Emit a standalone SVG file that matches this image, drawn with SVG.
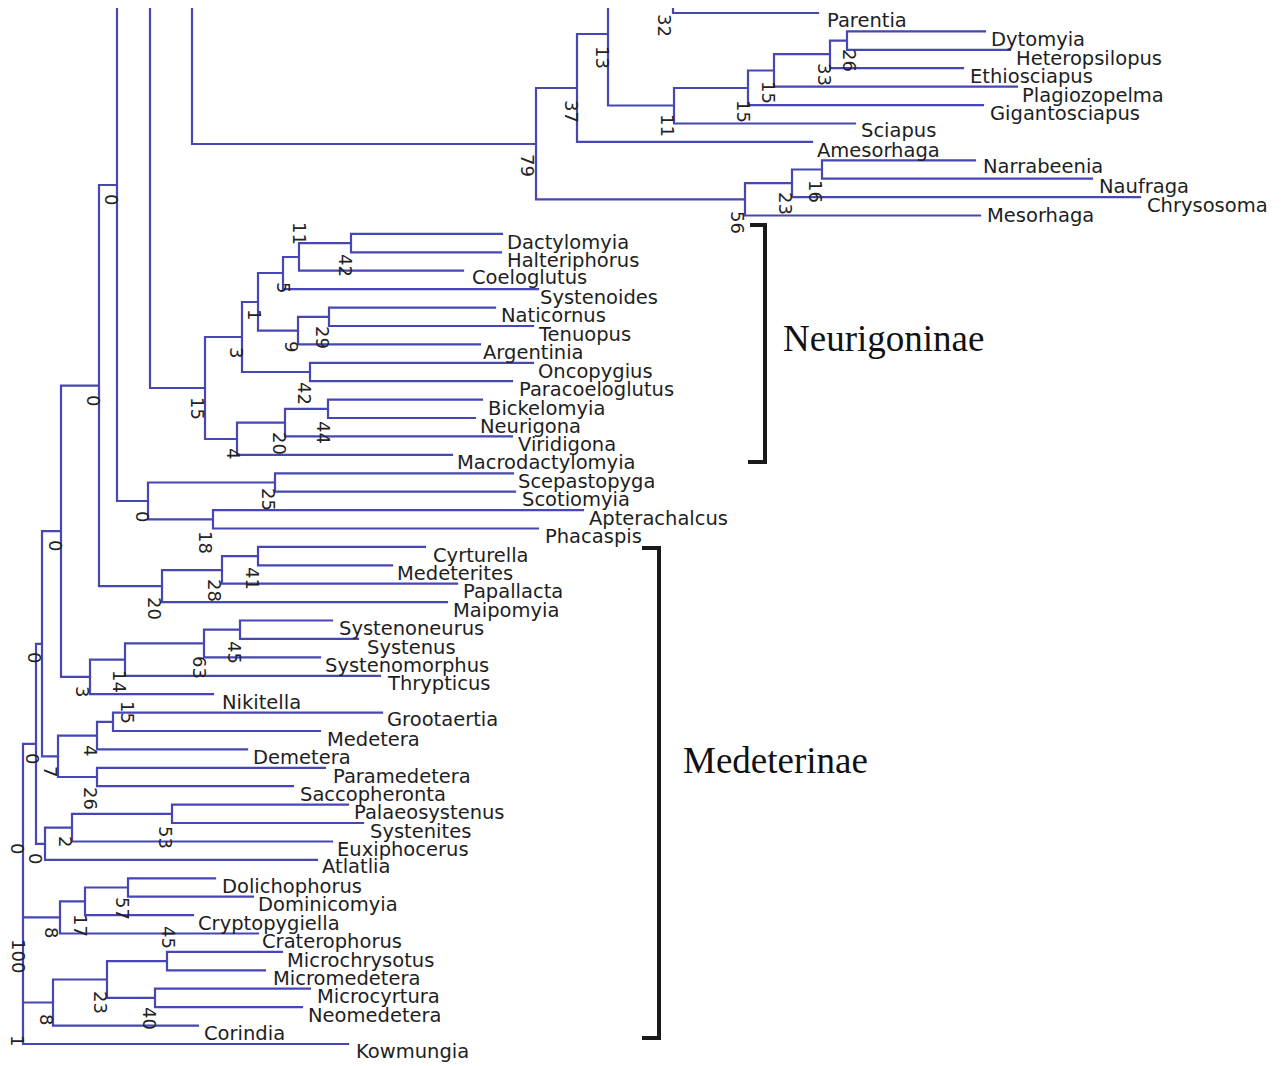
<svg xmlns="http://www.w3.org/2000/svg" width="1284" height="1066" viewBox="0 0 1284 1066">
<style>
.br{stroke:#4646b4;stroke-width:2.2;fill:none;stroke-linecap:square}
.lf{font-family:"DejaVu Sans",sans-serif;font-size:19.5px;fill:#1e1e1e}
.sv{font-family:"DejaVu Sans",sans-serif;font-size:18px;fill:#222}
.bk{stroke:#1a1a1a;stroke-width:4;fill:none}
.gp{font-family:"Liberation Serif",serif;font-size:37px;fill:#111}
</style>
<rect width="1284" height="1066" fill="#ffffff"/>
<g id="connectors">
<path class="br" d="M117 9V501H148M150 9V388H205M192 9V144H536M99 185H117M99 185V586.2H162M61 385.6H99M61 385.6V676.9H90M42 531.2H61M42 531.2V756.3H58M36 643.8H42M36 643.8V843.8H45M23 743.8H36M23 743.8V1044H348M23 917.4H60M23 1002.5H53"/>
<path class="br" d="M536 88V199.3M536 88H577M536 199.3H745M577 34V141.9M577 34H608M577 141.9H812M608 9V105.5H674M673 9V13H818M674 88V123.5M674 88H748M674 123.5H855M748 70.5V105.1M748 70.5H774M748 105.1H983M774 54.2V86.6M774 54.2H830M774 86.6H1017M830 40.6V68.2M830 40.6H847M830 68.2H963M847 31.4V49.8M847 31.4H985M847 49.8H1010M745 183.1V215.5M745 183.1H792M745 215.5H980M792 169.5V197.1M792 169.5H822M792 197.1H1140M822 160.3V178.7M822 160.3H975M822 178.7H1092"/>
<path class="br" d="M205 337V439M205 337H242M205 439H237M242 302V372M242 302H258M242 372H310M258 273V330.6M258 273H283M258 330.6H298M283 257V289.2M283 257H299M283 289.2H538M299 243.1V270.7M299 243.1H351M299 270.7H463M351 233.9V252.3M351 233.9H502M351 252.3H501M298 316.8V344.4M298 316.8H329M298 344.4H480M329 307.6V326M329 307.6H495M329 326H533M310 362.8V381.2M310 362.8H533M310 381.2H512M237 422.6V454.8M237 422.6H285M237 454.8H452M285 408.8V436.4M285 408.8H328M285 436.4H512M328 399.6V418M328 399.6H482M328 418H475"/>
<path class="br" d="M148 482.5V519.3M148 482.5H275M148 519.3H213M275 473.3V491.7M275 473.3H513M275 491.7H515M213 510.1V528.5M213 510.1H583M213 528.5H538M162 570.2V602.1M162 570.2H222M162 602.1H447M222 556.1V583.7M222 556.1H258M222 583.7H457M258 546.9V565.3M258 546.9H425M258 565.3H392"/>
<path class="br" d="M90 659.6V694.2M90 659.6H125M90 694.2H213M125 643.4V675.8M125 643.4H204M125 675.8H380M204 629.7V657.4M204 629.7H240M204 657.4H320M240 620.5V638.9M240 620.5H332M240 638.9H358"/>
<path class="br" d="M58 735.6V777M58 735.6H97M58 777H97M97 721.8V749.4M97 721.8H113M97 749.4H247M113 712.6V731M113 712.6H382M113 731H320M97 767.8V786.2M97 767.8H325M97 786.2H293M172 804.6V823M172 804.6H348M172 823H363M72 813.8V841.5M72 813.8H172M72 841.5H332M45 827.6V859.9M45 827.6H72M45 859.9H317"/>
<path class="br" d="M128 878.3V896.7M128 878.3H215M128 896.7H253M85 887.5V915.1M85 887.5H128M85 915.1H193M60 901.3V933.5M60 901.3H85M60 933.5H258M167 951.9V970.3M167 951.9H282M167 970.3H265M155 988.7V1007.1M155 988.7H310M155 1007.1H302M107 961.1V997.9M107 961.1H167M107 997.9H155M53 979.5V1025.6M53 979.5H107M53 1025.6H198"/>
</g>
<g id="leaves">
<g id="n-Parentia"><text class="lf" x="827" y="27">Parentia</text></g>
<g id="n-Dytomyia"><text class="lf" x="991" y="46">Dytomyia</text></g>
<g id="n-Heteropsilopus"><text class="lf" x="1016" y="64.5">Heteropsilopus</text></g>
<g id="n-Ethiosciapus"><text class="lf" x="970" y="83">Ethiosciapus</text></g>
<g id="n-Plagiozopelma"><text class="lf" x="1022" y="101.5">Plagiozopelma</text></g>
<g id="n-Gigantosciapus"><text class="lf" x="990" y="120">Gigantosciapus</text></g>
<g id="n-Sciapus"><text class="lf" x="861" y="137">Sciapus</text></g>
<g id="n-Amesorhaga"><text class="lf" x="817" y="156.5">Amesorhaga</text></g>
<g id="n-Narrabeenia"><text class="lf" x="983" y="173">Narrabeenia</text></g>
<g id="n-Naufraga"><text class="lf" x="1099" y="193">Naufraga</text></g>
<g id="n-Chrysosoma"><text class="lf" x="1147" y="211.5">Chrysosoma</text></g>
<g id="n-Mesorhaga"><text class="lf" x="987" y="222">Mesorhaga</text></g>
<g id="n-Dactylomyia"><text class="lf" x="507" y="248.5">Dactylomyia</text></g>
<g id="n-Halteriphorus"><text class="lf" x="507" y="266.8">Halteriphorus</text></g>
<g id="n-Coeloglutus"><text class="lf" x="472" y="284">Coeloglutus</text></g>
<g id="n-Systenoides"><text class="lf" x="540" y="303.5">Systenoides</text></g>
<g id="n-Naticornus"><text class="lf" x="501" y="322">Naticornus</text></g>
<g id="n-Tenuopus"><text class="lf" x="539" y="340.5">Tenuopus</text></g>
<g id="n-Argentinia"><text class="lf" x="483" y="359">Argentinia</text></g>
<g id="n-Oncopygius"><text class="lf" x="538" y="377.5">Oncopygius</text></g>
<g id="n-Paracoeloglutus"><text class="lf" x="519" y="395.8">Paracoeloglutus</text></g>
<g id="n-Bickelomyia"><text class="lf" x="488" y="414.5">Bickelomyia</text></g>
<g id="n-Neurigona"><text class="lf" x="480" y="432.5">Neurigona</text></g>
<g id="n-Viridigona"><text class="lf" x="518" y="451">Viridigona</text></g>
<g id="n-Macrodactylomyia"><text class="lf" x="457" y="469">Macrodactylomyia</text></g>
<g id="n-Scepastopyga"><text class="lf" x="518" y="488">Scepastopyga</text></g>
<g id="n-Scotiomyia"><text class="lf" x="522" y="506">Scotiomyia</text></g>
<g id="n-Apterachalcus"><text class="lf" x="589" y="525">Apterachalcus</text></g>
<g id="n-Phacaspis"><text class="lf" x="545" y="543">Phacaspis</text></g>
<g id="n-Cyrturella"><text class="lf" x="433" y="561.5">Cyrturella</text></g>
<g id="n-Medeterites"><text class="lf" x="397" y="580">Medeterites</text></g>
<g id="n-Papallacta"><text class="lf" x="463" y="598">Papallacta</text></g>
<g id="n-Maipomyia"><text class="lf" x="453" y="616.5">Maipomyia</text></g>
<g id="n-Systenoneurus"><text class="lf" x="339" y="635">Systenoneurus</text></g>
<g id="n-Systenus"><text class="lf" x="367" y="653.5">Systenus</text></g>
<g id="n-Systenomorphus"><text class="lf" x="325" y="672">Systenomorphus</text></g>
<g id="n-Thrypticus"><text class="lf" x="388" y="690">Thrypticus</text></g>
<g id="n-Nikitella"><text class="lf" x="222" y="709">Nikitella</text></g>
<g id="n-Grootaertia"><text class="lf" x="387" y="726">Grootaertia</text></g>
<g id="n-Medetera"><text class="lf" x="327" y="745.5">Medetera</text></g>
<g id="n-Demetera"><text class="lf" x="253" y="764">Demetera</text></g>
<g id="n-Paramedetera"><text class="lf" x="333" y="782.5">Paramedetera</text></g>
<g id="n-Saccopheronta"><text class="lf" x="300" y="801">Saccopheronta</text></g>
<g id="n-Palaeosystenus"><text class="lf" x="354" y="819">Palaeosystenus</text></g>
<g id="n-Systenites"><text class="lf" x="370" y="837.5">Systenites</text></g>
<g id="n-Euxiphocerus"><text class="lf" x="337" y="855.5">Euxiphocerus</text></g>
<g id="n-Atlatlia"><text class="lf" x="322" y="873">Atlatlia</text></g>
<g id="n-Dolichophorus"><text class="lf" x="222" y="892.5">Dolichophorus</text></g>
<g id="n-Dominicomyia"><text class="lf" x="258" y="911">Dominicomyia</text></g>
<g id="n-Cryptopygiella"><text class="lf" x="198" y="929.5">Cryptopygiella</text></g>
<g id="n-Craterophorus"><text class="lf" x="262" y="948">Craterophorus</text></g>
<g id="n-Microchrysotus"><text class="lf" x="287" y="966.5">Microchrysotus</text></g>
<g id="n-Micromedetera"><text class="lf" x="273" y="985">Micromedetera</text></g>
<g id="n-Microcyrtura"><text class="lf" x="317" y="1003">Microcyrtura</text></g>
<g id="n-Neomedetera"><text class="lf" x="308" y="1021.5">Neomedetera</text></g>
<g id="n-Corindia"><text class="lf" x="204" y="1040">Corindia</text></g>
<g id="n-Kowmungia"><text class="lf" x="356" y="1058">Kowmungia</text></g>
</g>
<g id="support-values" class="sv">
<text transform="translate(658,14) rotate(90)">32</text>
<text transform="translate(596,46) rotate(90)">13</text>
<text transform="translate(565,100) rotate(90)">37</text>
<text transform="translate(521,154) rotate(90)">79</text>
<text transform="translate(661,114) rotate(90)">11</text>
<text transform="translate(737,100) rotate(90)">15</text>
<text transform="translate(762,81) rotate(90)">15</text>
<text transform="translate(818,63) rotate(90)">33</text>
<text transform="translate(843,49) rotate(90)">26</text>
<text transform="translate(731,211) rotate(90)">56</text>
<text transform="translate(779,192) rotate(90)">23</text>
<text transform="translate(809,180) rotate(90)">16</text>
<text transform="translate(191,397) rotate(90)">15</text>
<text transform="translate(230,347) rotate(90)">3</text>
<text transform="translate(298,382) rotate(90)">42</text>
<text transform="translate(248,309) rotate(90)">1</text>
<text transform="translate(277,282) rotate(90)">5</text>
<text transform="translate(293,222) rotate(90)">11</text>
<text transform="translate(339,254) rotate(90)">42</text>
<text transform="translate(285,341) rotate(90)">9</text>
<text transform="translate(316,326) rotate(90)">29</text>
<text transform="translate(227,448) rotate(90)">4</text>
<text transform="translate(273,432) rotate(90)">20</text>
<text transform="translate(317,421) rotate(90)">44</text>
<text transform="translate(105,194) rotate(90)">0</text>
<text transform="translate(87,395) rotate(90)">0</text>
<text transform="translate(136,511) rotate(90)">0</text>
<text transform="translate(262,488) rotate(90)">25</text>
<text transform="translate(199,531) rotate(90)">18</text>
<text transform="translate(148,597) rotate(90)">20</text>
<text transform="translate(208,579) rotate(90)">28</text>
<text transform="translate(246,567) rotate(90)">41</text>
<text transform="translate(49,540) rotate(90)">0</text>
<text transform="translate(76,686) rotate(90)">3</text>
<text transform="translate(113,670) rotate(90)">14</text>
<text transform="translate(193,656) rotate(90)">63</text>
<text transform="translate(228,641) rotate(90)">45</text>
<text transform="translate(28,652) rotate(90)">0</text>
<text transform="translate(121,701) rotate(90)">15</text>
<text transform="translate(84,745) rotate(90)">4</text>
<text transform="translate(44,766) rotate(90)">7</text>
<text transform="translate(84,787) rotate(90)">26</text>
<text transform="translate(26,753) rotate(90)">0</text>
<text transform="translate(159,826) rotate(90)">53</text>
<text transform="translate(59,836) rotate(90)">2</text>
<text transform="translate(29,853) rotate(90)">0</text>
<text transform="translate(11,843) rotate(90)">0</text>
<text transform="translate(116,897) rotate(90)">57</text>
<text transform="translate(74,914) rotate(90)">17</text>
<text transform="translate(45,927) rotate(90)">8</text>
<text transform="translate(12,939) rotate(90)">100</text>
<text transform="translate(162,926) rotate(90)">45</text>
<text transform="translate(94,991) rotate(90)">23</text>
<text transform="translate(143,1007) rotate(90)">40</text>
<text transform="translate(40,1014) rotate(90)">8</text>
<text transform="translate(11,1035) rotate(90)">1</text>
</g>
<g id="group-Neurigoninae">
<path class="bk" d="M750 225H765V462H748"/>
<text class="gp" x="783" y="351">Neurigoninae</text>
</g>
<g id="group-Medeterinae">
<path class="bk" d="M642 548H659V1038H642"/>
<text class="gp" x="683" y="773">Medeterinae</text>
</g>
</svg>
